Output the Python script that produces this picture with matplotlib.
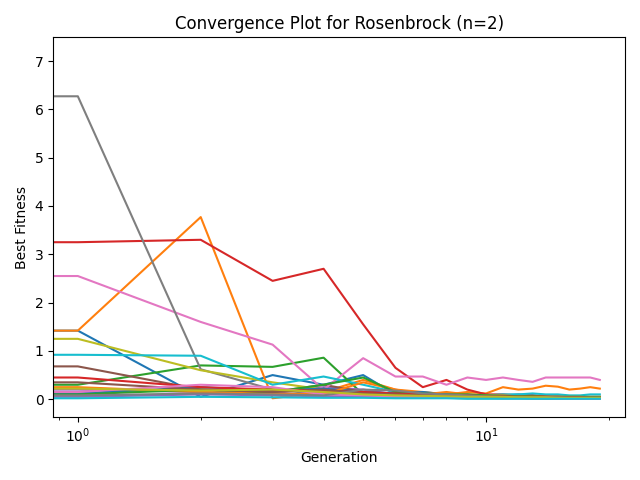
import numpy as np
import matplotlib
matplotlib.use("Agg")
import matplotlib.pyplot as plt

generations = list(range(20))

# best fitness per generation, one list per run
runs = [
    [1.42, 1.42, 0.05, 0.50, 0.30, 0.50, 0.10, 0.08, 0.06, 0.10, 0.05, 0.08, 0.10, 0.08, 0.05, 0.05, 0.05, 0.04, 0.04, 0.04],
    [1.42, 1.42, 3.77, 0.02, 0.15, 0.40, 0.20, 0.15, 0.10, 0.15, 0.12, 0.25, 0.20, 0.22, 0.28, 0.26, 0.20, 0.22, 0.25, 0.22],
    [0.30, 0.30, 0.70, 0.67, 0.86, 0.10, 0.05, 0.05, 0.04, 0.04, 0.03, 0.03, 0.03, 0.03, 0.03, 0.02, 0.02, 0.02, 0.02, 0.02],
    [3.25, 3.25, 3.30, 2.45, 2.70, 1.55, 0.65, 0.25, 0.40, 0.20, 0.10, 0.10, 0.08, 0.08, 0.06, 0.06, 0.05, 0.05, 0.05, 0.05],
    [0.20, 0.20, 0.15, 0.12, 0.25, 0.20, 0.10, 0.08, 0.05, 0.04, 0.04, 0.03, 0.03, 0.03, 0.02, 0.02, 0.02, 0.02, 0.02, 0.02],
    [0.68, 0.68, 0.20, 0.15, 0.30, 0.15, 0.10, 0.08, 0.08, 0.06, 0.05, 0.05, 0.04, 0.04, 0.04, 0.03, 0.03, 0.03, 0.03, 0.03],
    [2.55, 2.55, 1.60, 1.13, 0.20, 0.85, 0.47, 0.47, 0.30, 0.45, 0.40, 0.45, 0.40, 0.36, 0.45, 0.45, 0.45, 0.45, 0.45, 0.40],
    [6.27, 6.27, 0.62, 0.20, 0.10, 0.05, 0.04, 0.03, 0.03, 0.02, 0.02, 0.02, 0.02, 0.01, 0.01, 0.01, 0.01, 0.01, 0.01, 0.01],
    [1.25, 1.25, 0.60, 0.35, 0.20, 0.15, 0.10, 0.08, 0.05, 0.05, 0.04, 0.04, 0.03, 0.03, 0.03, 0.03, 0.02, 0.02, 0.02, 0.02],
    [0.92, 0.92, 0.90, 0.30, 0.47, 0.30, 0.15, 0.10, 0.10, 0.08, 0.08, 0.10, 0.10, 0.12, 0.10, 0.10, 0.08, 0.08, 0.10, 0.10],
    [0.12, 0.12, 0.25, 0.18, 0.22, 0.15, 0.12, 0.15, 0.10, 0.08, 0.06, 0.06, 0.05, 0.05, 0.05, 0.04, 0.04, 0.04, 0.04, 0.04],
    [0.25, 0.25, 0.15, 0.12, 0.10, 0.35, 0.20, 0.10, 0.15, 0.10, 0.08, 0.08, 0.06, 0.06, 0.05, 0.05, 0.05, 0.05, 0.04, 0.04],
    [0.10, 0.10, 0.20, 0.15, 0.30, 0.45, 0.15, 0.12, 0.10, 0.10, 0.08, 0.07, 0.06, 0.06, 0.05, 0.05, 0.05, 0.05, 0.05, 0.05],
    [0.45, 0.45, 0.25, 0.20, 0.18, 0.15, 0.12, 0.10, 0.08, 0.08, 0.06, 0.06, 0.05, 0.05, 0.05, 0.04, 0.04, 0.04, 0.03, 0.03],
    [0.05, 0.05, 0.10, 0.08, 0.06, 0.05, 0.04, 0.04, 0.03, 0.03, 0.03, 0.02, 0.02, 0.02, 0.02, 0.02, 0.02, 0.01, 0.01, 0.01],
    [0.35, 0.35, 0.20, 0.15, 0.20, 0.12, 0.10, 0.08, 0.06, 0.05, 0.05, 0.04, 0.04, 0.04, 0.03, 0.03, 0.03, 0.03, 0.03, 0.03],
    [0.15, 0.15, 0.30, 0.25, 0.10, 0.08, 0.06, 0.05, 0.05, 0.04, 0.04, 0.03, 0.03, 0.03, 0.03, 0.02, 0.02, 0.02, 0.02, 0.02],
    [0.08, 0.08, 0.12, 0.10, 0.08, 0.20, 0.18, 0.12, 0.10, 0.08, 0.06, 0.05, 0.05, 0.04, 0.04, 0.04, 0.03, 0.03, 0.03, 0.03],
    [0.22, 0.22, 0.18, 0.20, 0.15, 0.10, 0.08, 0.07, 0.06, 0.05, 0.05, 0.05, 0.04, 0.04, 0.04, 0.03, 0.03, 0.03, 0.03, 0.03],
    [0.02, 0.02, 0.05, 0.04, 0.03, 0.03, 0.02, 0.02, 0.02, 0.01, 0.01, 0.01, 0.01, 0.01, 0.01, 0.01, 0.01, 0.01, 0.01, 0.01],
]

fig, ax = plt.subplots(figsize=(6.4, 4.8), dpi=100)
for r in runs:
    ax.plot(generations, r)

ax.set_xscale("log")
ax.set_xlim(0.87, 21.9)
ax.set_ylim(-0.37, 7.49)
ax.set_title("Convergence Plot for Rosenbrock (n=2)")
ax.set_xlabel("Generation")
ax.set_ylabel("Best Fitness")
fig.tight_layout()
fig.savefig("out.png")
